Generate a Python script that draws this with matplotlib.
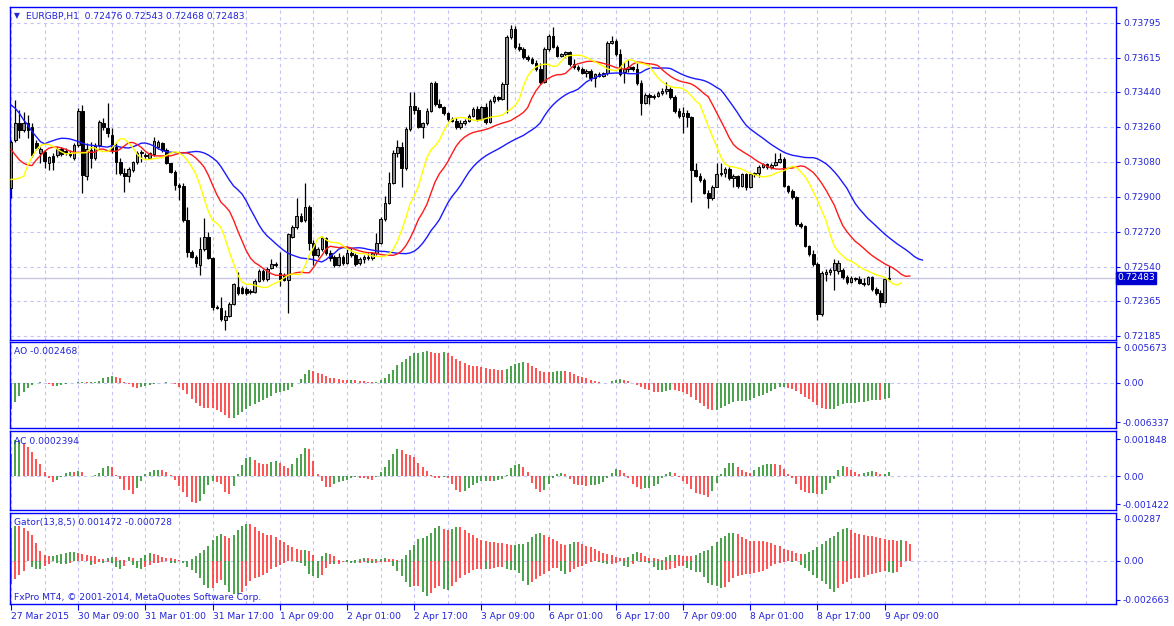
import numpy as np
import pandas as pd
import matplotlib
matplotlib.use("Agg")
import matplotlib.pyplot as plt
from matplotlib.transforms import blended_transform_factory

plt.rcParams['font.family'] = ['DejaVu Sans']

# ---------------- data (EURGBP H1) ----------------
opens = [
0.72944,0.73193,0.73279,0.73244,0.73279,0.73261,0.73176,0.73124,0.73133,0.73076,
0.73110,0.73116,0.73148,0.73138,0.73128,0.73098,0.73167,0.73344,0.73008,0.73141,
0.73098,0.73167,0.73282,0.73253,0.73218,0.73155,0.73081,0.73021,0.73008,0.73038,
0.73081,0.73124,0.73116,0.73102,0.73121,0.73158,0.73179,0.73141,0.73073,0.73030,
0.72961,0.72956,0.72781,0.72618,0.72593,0.72550,0.72630,0.72695,0.72584,0.72335,
0.72327,0.72267,0.72287,0.72349,0.72438,0.72430,0.72424,0.72412,0.72412,0.72469,
0.72520,0.72476,0.72532,0.72555,0.72507,0.72498,0.72472,0.72695,0.72743,0.72802,
0.72781,0.72850,0.72664,0.72601,0.72630,0.72687,0.72610,0.72589,0.72550,0.72589,
0.72562,0.72613,0.72601,0.72558,0.72579,0.72589,0.72584,0.72610,0.72664,0.72784,
0.72870,0.72973,0.73127,0.73155,0.73047,0.73248,0.73368,0.73347,0.73261,0.73278,
0.73344,0.73484,0.73378,0.73361,0.73330,0.73299,0.73292,0.73258,0.73282,0.73292,
0.73316,0.73350,0.73302,0.73361,0.73287,0.73395,0.73412,0.73405,0.73481,0.73721,
0.73762,0.73669,0.73659,0.73618,0.73608,0.73591,0.73556,0.73493,0.73659,0.73728,
0.73673,0.73625,0.73635,0.73645,0.73584,0.73566,0.73557,0.73540,0.73550,0.73510,
0.73533,0.73522,0.73540,0.73694,0.73704,0.73636,0.73545,0.73557,0.73567,0.73557,
0.73485,0.73385,0.73425,0.73413,0.73419,0.73437,0.73447,0.73454,0.73413,0.73344,
0.73317,0.73334,0.73310,0.73039,0.73008,0.72987,0.72922,0.72893,0.72953,0.73018,
0.73025,0.73042,0.72996,0.73008,0.72956,0.73018,0.72950,0.73018,0.73025,0.73056,
0.73070,0.73052,0.73066,0.73080,0.73097,0.72956,0.72932,0.72898,0.72761,0.72751,
0.72648,0.72607,0.72555,0.72298,0.72504,0.72514,0.72524,0.72521,0.72524,0.72487,
0.72464,0.72481,0.72476,0.72459,0.72452,0.72487,0.72425,0.72404,0.72361,0.72476]

highs = [
0.73193,0.73399,0.73347,0.73339,0.73321,0.73279,0.73193,0.73158,0.73141,0.73110,
0.73124,0.73155,0.73158,0.73150,0.73141,0.73176,0.73356,0.73373,0.73176,0.73184,
0.73176,0.73296,0.73304,0.73381,0.73253,0.73176,0.73098,0.73047,0.73052,0.73086,
0.73138,0.73141,0.73128,0.73133,0.73210,0.73193,0.73184,0.73150,0.73076,0.73038,
0.72970,0.72970,0.72850,0.72627,0.72601,0.72695,0.72790,0.72721,0.72593,0.72344,
0.72387,0.72318,0.72359,0.72459,0.72515,0.72442,0.72438,0.72424,0.72476,0.72527,
0.72527,0.72538,0.72579,0.72567,0.72618,0.72510,0.72712,0.72755,0.72893,0.72815,
0.72970,0.72858,0.72678,0.72644,0.72699,0.72695,0.72627,0.72601,0.72610,0.72601,
0.72630,0.72635,0.72610,0.72589,0.72601,0.72613,0.72618,0.72712,0.72798,0.72905,
0.73030,0.73141,0.73193,0.73184,0.73261,0.73441,0.73441,0.73361,0.73287,0.73356,
0.73493,0.73498,0.73402,0.73368,0.73338,0.73313,0.73304,0.73296,0.73299,0.73326,
0.73361,0.73368,0.73368,0.73381,0.73405,0.73424,0.73419,0.73493,0.73733,0.73784,
0.73779,0.73693,0.73669,0.73630,0.73618,0.73604,0.73587,0.73673,0.73738,0.73776,
0.73681,0.73642,0.73652,0.73652,0.73608,0.73578,0.73570,0.73557,0.73557,0.73540,
0.73545,0.73545,0.73704,0.73728,0.73711,0.73660,0.73596,0.73605,0.73574,0.73588,
0.73502,0.73437,0.73433,0.73430,0.73447,0.73459,0.73493,0.73467,0.73425,0.73356,
0.73365,0.73347,0.73317,0.73073,0.73022,0.72996,0.72936,0.72962,0.73073,0.73073,
0.73052,0.73056,0.73018,0.73013,0.73025,0.73025,0.73025,0.73030,0.73064,0.73076,
0.73076,0.73073,0.73124,0.73128,0.73107,0.72962,0.72939,0.72905,0.72773,0.72756,
0.72653,0.72627,0.72567,0.72521,0.72528,0.72533,0.72579,0.72576,0.72533,0.72499,
0.72493,0.72490,0.72493,0.72481,0.72493,0.72493,0.72435,0.72421,0.72487,0.72543]

lows = [
0.72893,0.73184,0.73201,0.73236,0.73201,0.73107,0.73141,0.73073,0.73047,0.73038,
0.73038,0.73107,0.73110,0.73116,0.73107,0.73090,0.73158,0.72918,0.72987,0.73047,
0.73090,0.73158,0.73244,0.73210,0.73124,0.73018,0.73013,0.72927,0.72978,0.73030,
0.73069,0.73081,0.73098,0.73093,0.73110,0.73145,0.73133,0.73069,0.73025,0.72936,
0.72884,0.72773,0.72593,0.72584,0.72541,0.72498,0.72623,0.72579,0.72318,0.72322,
0.72263,0.72215,0.72280,0.72344,0.72395,0.72400,0.72395,0.72400,0.72404,0.72464,
0.72469,0.72469,0.72527,0.72538,0.72442,0.72469,0.72301,0.72687,0.72733,0.72771,
0.72772,0.72627,0.72550,0.72589,0.72623,0.72601,0.72572,0.72538,0.72544,0.72550,
0.72555,0.72589,0.72544,0.72550,0.72562,0.72575,0.72575,0.72601,0.72658,0.72778,
0.72863,0.72966,0.73107,0.72953,0.73038,0.73241,0.73326,0.73253,0.73201,0.73270,
0.73338,0.73368,0.73356,0.73321,0.73292,0.73287,0.73248,0.73251,0.73270,0.73285,
0.73309,0.73292,0.73296,0.73275,0.73278,0.73385,0.73395,0.73398,0.73330,0.73711,
0.73659,0.73652,0.73608,0.73601,0.73584,0.73549,0.73481,0.73484,0.73652,0.73664,
0.73618,0.73618,0.73618,0.73573,0.73556,0.73549,0.73533,0.73516,0.73498,0.73467,
0.73516,0.73519,0.73528,0.73687,0.73625,0.73522,0.73485,0.73545,0.73550,0.73476,
0.73322,0.73378,0.73378,0.73402,0.73416,0.73425,0.73430,0.73402,0.73334,0.73305,
0.73227,0.73258,0.72876,0.73001,0.72979,0.72915,0.72842,0.72884,0.72950,0.73008,
0.73001,0.72987,0.72953,0.72944,0.72950,0.72936,0.72944,0.73001,0.73004,0.73049,
0.73042,0.73046,0.73059,0.73073,0.72950,0.72922,0.72888,0.72751,0.72739,0.72641,
0.72596,0.72545,0.72267,0.72288,0.72469,0.72499,0.72421,0.72504,0.72476,0.72452,
0.72459,0.72469,0.72452,0.72442,0.72447,0.72418,0.72396,0.72332,0.72356,0.72468]

closes = [
0.73184,0.73279,0.73244,0.73279,0.73244,0.73116,0.73150,0.73145,0.73086,0.73104,
0.73081,0.73145,0.73119,0.73124,0.73116,0.73167,0.73344,0.73013,0.73145,0.73098,
0.73162,0.73287,0.73258,0.73230,0.73141,0.73081,0.73021,0.73008,0.73042,0.73081,
0.73128,0.73131,0.73110,0.73124,0.73189,0.73184,0.73141,0.73076,0.73030,0.72961,
0.72953,0.72781,0.72618,0.72593,0.72558,0.72630,0.72692,0.72584,0.72335,0.72327,
0.72270,0.72287,0.72349,0.72452,0.72407,0.72404,0.72407,0.72418,0.72469,0.72520,
0.72476,0.72527,0.72555,0.72550,0.72476,0.72472,0.72709,0.72743,0.72802,0.72776,
0.72850,0.72661,0.72601,0.72630,0.72687,0.72610,0.72584,0.72550,0.72589,0.72562,
0.72613,0.72601,0.72555,0.72579,0.72589,0.72584,0.72610,0.72664,0.72784,0.72870,
0.72973,0.73127,0.73155,0.73047,0.73248,0.73368,0.73347,0.73261,0.73278,0.73344,
0.73484,0.73378,0.73361,0.73330,0.73299,0.73292,0.73258,0.73282,0.73292,0.73316,
0.73350,0.73302,0.73361,0.73287,0.73395,0.73412,0.73405,0.73481,0.73721,0.73762,
0.73669,0.73659,0.73618,0.73608,0.73591,0.73556,0.73493,0.73659,0.73728,0.73673,
0.73625,0.73635,0.73645,0.73584,0.73566,0.73556,0.73540,0.73550,0.73510,0.73533,
0.73522,0.73540,0.73694,0.73704,0.73636,0.73533,0.73557,0.73567,0.73557,0.73485,
0.73385,0.73425,0.73413,0.73419,0.73437,0.73447,0.73454,0.73413,0.73344,0.73317,
0.73334,0.73310,0.73039,0.73008,0.72987,0.72922,0.72893,0.72953,0.73018,0.73025,
0.73042,0.72996,0.73008,0.72956,0.73018,0.72950,0.73018,0.73025,0.73056,0.73070,
0.73052,0.73066,0.73080,0.73097,0.72956,0.72932,0.72898,0.72761,0.72751,0.72648,
0.72607,0.72555,0.72298,0.72507,0.72514,0.72524,0.72559,0.72559,0.72487,0.72464,
0.72481,0.72476,0.72459,0.72452,0.72487,0.72425,0.72404,0.72361,0.72476,0.72483]

# Alligator values visible before the first bar feeds the SMMA (jaw 13/8, teeth 8/5, lips 5/3)
jaw_pre = [0.73373, 0.73356, 0.73330, 0.73296, 0.73270, 0.73236, 0.73210, 0.73184]
teeth_pre = [0.73145, 0.73116, 0.73090, 0.73073, 0.73064]
lips_pre = [0.72990, 0.72992, 0.72997]

# Awesome Oscillator for the first 33 bars (needs 34 bars of history)
ao_early = [-0.00421, -0.00304, -0.00208, -0.00144, -0.00091, -0.00037, -0.00011, 0.00005,
            -0.00011, -0.00027, -0.00048, -0.00045, -0.00037, -0.00021, -0.00011, -0.00002,
            0.00016, 0.00018, 0.00005, 0.00012, 0.00016, 0.00032, 0.00069, 0.00096,
            0.00112, 0.00085, 0.00069, 0.00005, -0.00021, -0.00075, -0.00080, -0.00074,
            -0.00053]
ac_early = [0.00110, 0.00180, 0.00182, 0.00167]

price_ticks = [0.73795, 0.73615, 0.73440, 0.73260, 0.73080, 0.72900, 0.72720, 0.72540, 0.72365, 0.72185]
price_tick_labels = ["0.73795", "0.73615", "0.73440", "0.73260", "0.73080", "0.72900",
                     "0.72720", "0.72540", "0.72365", "0.72185"]
last_price = 0.72483
last_price_label = "0.72483"
ao_ticks = [0.005673, 0.0, -0.006337]
ao_tick_labels = ["0.005673", "0.00", "-0.006337"]
ac_ticks = [0.001848, 0.0, -0.001422]
ac_tick_labels = ["0.001848", "0.00", "-0.001422"]
gator_ticks = [0.00287, 0.0, -0.002663]
gator_tick_labels = ["0.00287", "0.00", "-0.002663"]
time_labels = ["27 Mar 2015", "30 Mar 09:00", "31 Mar 01:00", "31 Mar 17:00", "1 Apr 09:00",
               "2 Apr 01:00", "2 Apr 17:00", "3 Apr 09:00", "6 Apr 01:00", "6 Apr 17:00",
               "7 Apr 09:00", "8 Apr 01:00", "8 Apr 17:00", "9 Apr 09:00"]
title_text = "EURGBP,H1  0.72476 0.72543 0.72468 0.72483"
ao_text = "AO -0.002468"
ac_text = "AC 0.0002394"
gator_text = "Gator(13,8,5) 0.001472 -0.000728"
copyright_text = "FxPro MT4, \u00a9 2001-2014, MetaQuotes Software Corp."

# ---------------- calculations ----------------
o = np.array(opens); h = np.array(highs); l = np.array(lows); c = np.array(closes)
h = np.maximum(h, np.maximum(o, c)); l = np.minimum(l, np.minimum(o, c))
n = len(c)
x = np.arange(n)
med = (h + l) / 2.0

def smma(seed, period):
    out = []
    prev = seed
    for m in med:
        prev = (prev * (period - 1) + m) / period
        out.append(prev)
    return np.array(out)

jaw = np.concatenate([jaw_pre, smma(jaw_pre[-1], 13)])
teeth = np.concatenate([teeth_pre, smma(teeth_pre[-1], 8)])
lips = np.concatenate([lips_pre, smma(lips_pre[-1], 5)])

gup = np.abs(jaw[:len(teeth)] - teeth)
gdn = np.abs(teeth[:len(lips)] - lips)

s = pd.Series(med)
ao = (s.rolling(5).mean() - s.rolling(34).mean()).to_numpy()
ao[:len(ao_early)] = ao_early
ac = ao - pd.Series(ao).rolling(5).mean().to_numpy()
ac[:len(ac_early)] = ac_early

GREEN = '#1f8f1f'
RED = '#ff2a2a'

def colors(vals):
    out = [GREEN]
    for i in range(1, len(vals)):
        out.append(GREEN if vals[i] > vals[i - 1] else RED)
    return out

# ---------------- figure ----------------
W, H = 1174, 626
fig = plt.figure(figsize=(W / 100, H / 100), dpi=100)
fig.patch.set_facecolor('white')
BLUE = '#0000ff'
TXT = '#2323d8'
GRID = '#c4c4f4'
FS = 6.6

def add_ax(top, bottom):
    return fig.add_axes([10 / W, 1 - bottom / H, 1106 / W, (bottom - top) / H])

ax_m = add_ax(7, 340)
ax_ao = add_ax(342, 428)
ax_ac = add_ax(431, 510)
ax_g = add_ax(513, 604)
axes = [ax_m, ax_ao, ax_ac, ax_g]

xlim = (-0.25, -0.25 + 1106 / 4.2)
major_x = [16 * k for k in range(len(time_labels))]
minor_x = [v for v in range(8, 264, 8) if v not in major_x]
for ax in axes:
    ax.set_xlim(*xlim)
    ax.set_facecolor('white')
    for sp in ax.spines.values():
        sp.set_color(BLUE)
        sp.set_linewidth(1.0)
    ax.yaxis.tick_right()
    ax.tick_params(axis='y', colors=BLUE, labelcolor=TXT, labelsize=FS, length=3, width=0.8,
                   direction='out', pad=2)
    ax.set_xticks(major_x)
    ax.set_xticks(minor_x, minor=True)
    ax.grid(True, axis='x', which='both', color=GRID, linestyle=(0, (3, 3)), linewidth=0.8)
    ax.set_axisbelow(True)
    ax.tick_params(axis='x', which='minor', length=0)
    if ax is not ax_g:
        ax.tick_params(axis='x', which='major', length=0, labelbottom=False)

# main panel
ax_m.set_ylim(0.72164, 0.73877)
ax_m.set_yticks(price_ticks)
ax_m.set_yticklabels(price_tick_labels)
ax_m.grid(True, axis='y', color=GRID, linestyle=(0, (3, 3)), linewidth=0.8)
ax_m.axhline(last_price, color='#c8c8e6', linewidth=1.0, zorder=1)

up = c >= o
ax_m.vlines(x, l, h, color='black', linewidth=0.9, zorder=2)
body = np.where(np.abs(c - o) < 1e-6, 1e-6, c - o)
ax_m.bar(x, body, bottom=o, width=0.62, color=np.where(up, '#8a8a8a', '#000000'),
         edgecolor='black', linewidth=0.7, zorder=3)

ax_m.plot(np.arange(len(jaw)), jaw, color='#1a1aff', linewidth=1.0, zorder=4)
ax_m.plot(np.arange(len(teeth)), teeth, color='#ff1a1a', linewidth=1.0, zorder=4)
ax_m.plot(np.arange(len(lips)), lips, color='#ffff00', linewidth=1.0, zorder=4)

tr = blended_transform_factory(fig.transFigure, ax_m.transData)
ax_m.text(1117 / W, last_price, last_price_label, transform=tr, color='white', fontsize=FS,
          va='center', ha='left',
          bbox=dict(boxstyle='square,pad=0.15', facecolor='#0000d0', edgecolor='#0000d0'),
          zorder=10, clip_on=False)

# AO
ax_ao.set_ylim(-0.00725, 0.00651)
ax_ao.set_yticks(ao_ticks)
ax_ao.set_yticklabels(ao_tick_labels)
ax_ao.axhline(0, color=GRID, linestyle=(0, (3, 3)), linewidth=0.8, zorder=0)
ax_ao.vlines(x, 0, ao, colors=colors(ao), linewidth=1.15)

# AC
ax_ac.set_ylim(-0.0017, 0.00225)
ax_ac.set_yticks(ac_ticks)
ax_ac.set_yticklabels(ac_tick_labels)
ax_ac.axhline(0, color=GRID, linestyle=(0, (3, 3)), linewidth=0.8, zorder=0)
ax_ac.vlines(x, 0, ac, colors=colors(ac), linewidth=1.15)

# Gator
ax_g.set_ylim(-0.00294, 0.00328)
ax_g.set_yticks(gator_ticks)
ax_g.set_yticklabels(gator_tick_labels)
ax_g.axhline(0, color=GRID, linestyle=(0, (3, 3)), linewidth=0.8, zorder=0)
ax_g.vlines(np.arange(len(gup)), 0, gup, colors=colors(gup), linewidth=1.15)
ax_g.vlines(np.arange(len(gdn)), 0, -gdn, colors=colors(gdn), linewidth=1.15)

ax_g.set_xticklabels(time_labels)
ax_g.tick_params(axis='x', which='major', colors=BLUE, labelcolor=TXT, labelsize=FS,
                 length=4, width=0.8, direction='out', pad=2)
for lab in ax_g.get_xticklabels():
    lab.set_ha('left')

# texts
def ftext(px, py, s, size=FS):
    fig.text(px / W, 1 - py / H, s, color=TXT, fontsize=size, va='center', ha='left')

ftext(14, 16, "\u25bc", size=5.5)
ftext(26, 16, title_text)
ftext(14, 352, ao_text)
ftext(14, 441, ac_text)
ftext(14, 523, gator_text)
ftext(14, 597, copyright_text)

fig.savefig('out.png', dpi=100, facecolor='white')
